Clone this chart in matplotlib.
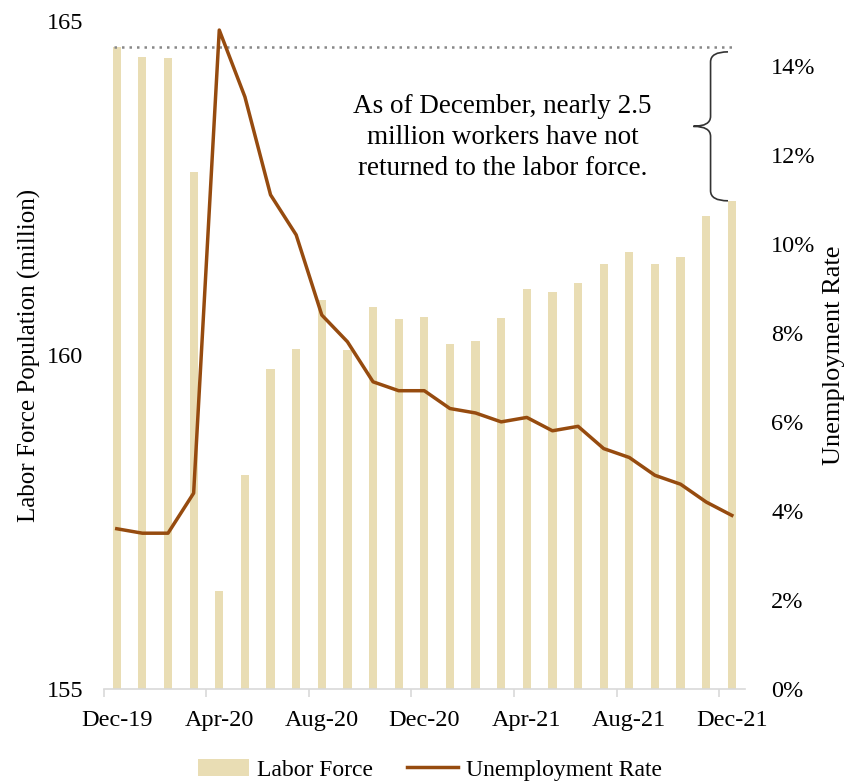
import numpy as np
import matplotlib
matplotlib.use("Agg")
import matplotlib.pyplot as plt
from matplotlib.path import Path
from matplotlib.patches import PathPatch

plt.rcParams['font.family'] = ['Liberation Serif', 'DejaVu Serif']

# monthly data, Dec-19 .. Dec-21
months = ['Dec-19', 'Jan-20', 'Feb-20', 'Mar-20', 'Apr-20', 'May-20', 'Jun-20',
          'Jul-20', 'Aug-20', 'Sep-20', 'Oct-20', 'Nov-20', 'Dec-20', 'Jan-21',
          'Feb-21', 'Mar-21', 'Apr-21', 'May-21', 'Jun-21', 'Jul-21', 'Aug-21',
          'Sep-21', 'Oct-21', 'Nov-21', 'Dec-21']
labor_force = [164.61, 164.46, 164.45, 162.74, 156.47, 158.20, 159.79, 160.09,
               160.82, 160.07, 160.72, 160.54, 160.57, 160.16, 160.21, 160.55,
               160.99, 160.94, 161.08, 161.36, 161.54, 161.36, 161.47, 162.08,
               162.31]
unemp = [3.6, 3.5, 3.5, 4.4, 14.8, 13.3, 11.1, 10.2, 8.4, 7.8, 6.9, 6.7, 6.7,
         6.3, 6.2, 6.0, 6.1, 5.8, 5.9, 5.4, 5.2, 4.8, 4.6, 4.2, 3.9]
note = "As of December, nearly 2.5\nmillion workers have not\nreturned to the labor force."

bar_col = '#E9DDB4'
line_col = '#964B0F'
fs = 17.5

x = np.arange(len(months))
fig = plt.figure(figsize=(8.52, 7.83), dpi=100)
ax = fig.add_axes([0.122, 0.120, 0.752, 0.853])
ax2 = ax.twinx()

ax.bar(x, np.array(labor_force) - 155, bottom=155, width=0.32, color=bar_col,
       label='Labor Force')
ax2.plot(x, unemp, color=line_col, lw=2.5, label='Unemployment Rate')

ax.set_xlim(-0.5, len(months) - 0.5)
ax.set_ylim(155, 165)
ax.set_yticks([155, 160, 165])
ax2.set_ylim(0, 15)
ax2.set_yticks(np.arange(0, 15, 2))
ax2.set_yticklabels([f"{v}%" for v in range(0, 15, 2)])

# ticks at category boundaries, labels at centers
ax.set_xticks(np.arange(-0.5, len(months) - 1, 4))
ax.set_xticklabels([])
ax.set_xticks(x[::4], minor=True)
ax.set_xticklabels(months[::4], minor=True)
ax.tick_params(axis='x', which='major', length=6, color='#D9D9D9', width=1.2)
ax.tick_params(axis='x', which='minor', length=0, pad=15, labelsize=fs)
ax.tick_params(axis='y', length=0, labelsize=fs, pad=15)
ax2.tick_params(axis='y', length=0, labelsize=fs, pad=19)

for a in (ax, ax2):
    for s in ['top', 'left', 'right']:
        a.spines[s].set_visible(False)
ax.spines['bottom'].set_color('#D9D9D9')
ax.spines['bottom'].set_linewidth(1.2)
ax2.spines['bottom'].set_visible(False)

ax.set_ylabel('Labor Force Population (million)', fontsize=18, labelpad=4)
ax2.set_ylabel('Unemployment Rate', fontsize=19, labelpad=5)

# pre-pandemic level reference line
ax.hlines(labor_force[0], -0.1, 24.1, colors='#888888', linestyles=(0, (1, 2)),
          lw=1.8, zorder=1)

# brace spanning the gap between Dec-19 and Dec-21
top = labor_force[0] - 0.07
bot = labor_force[-1]
mid = (top + bot) / 2
xr, xm, xl = 23.85, 23.17, 22.5
verts = [(xr, top), (xm, top), (xm, top - 0.15),
         (xm, mid + 0.15), (xm, mid), (xl, mid),
         (xm, mid), (xm, mid - 0.15),
         (xm, bot + 0.15), (xm, bot), (xr, bot)]
codes = [Path.MOVETO, Path.CURVE3, Path.CURVE3,
         Path.LINETO, Path.CURVE3, Path.CURVE3,
         Path.CURVE3, Path.CURVE3,
         Path.LINETO, Path.CURVE3, Path.CURVE3]
ax.add_patch(PathPatch(Path(verts, codes), fill=False, edgecolor='#333333', lw=1.2,
                       clip_on=False))

ax.text(15.06, 163.26, note, ha='center', va='center', fontsize=19.5,
        linespacing=1.32)

h1, l1 = ax.get_legend_handles_labels()
h2, l2 = ax2.get_legend_handles_labels()
fig.legend(h1 + h2, l1 + l2, loc='lower center', bbox_to_anchor=(0.505, -0.024),
           ncol=2, frameon=False, fontsize=17, handlelength=2.15, columnspacing=1.45,
           handletextpad=0.35)

fig.savefig('out.png', dpi=100)
